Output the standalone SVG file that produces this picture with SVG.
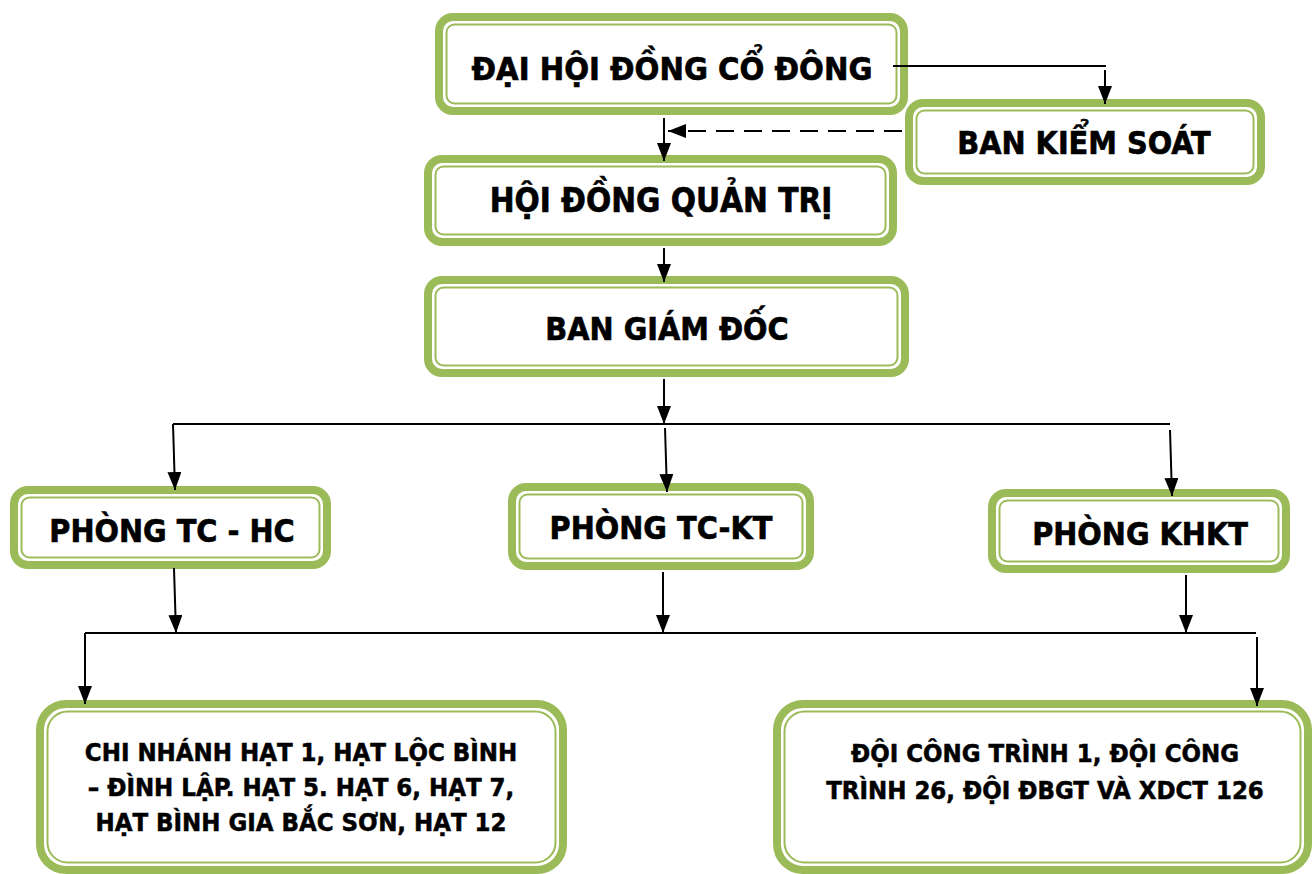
<svg xmlns="http://www.w3.org/2000/svg" width="1312" height="874" viewBox="0 0 1312 874">
<defs>
<marker id="ah" markerUnits="userSpaceOnUse" markerWidth="18" markerHeight="14" refX="18" refY="7" orient="auto">
<path d="M0,0 L18,7 L0,14 z" fill="#000"/>
</marker>
</defs>
<style>
.o{fill:#fff;stroke:#9BBB59;stroke-width:8}
.i{fill:none;stroke:#9BBB59;stroke-width:2}
.t{font-family:"DejaVu Sans Condensed","DejaVu Sans",sans-serif;font-stretch:condensed;font-weight:bold;font-size:32px;fill:#000;stroke:#000;stroke-width:0.6;text-anchor:middle}
.s{font-family:"DejaVu Sans Condensed","DejaVu Sans",sans-serif;font-stretch:condensed;font-weight:bold;font-size:25.5px;fill:#000;stroke:#000;stroke-width:0.5;text-anchor:middle}
.c{fill:none;stroke:#000;stroke-width:2}
</style>
<rect width="1312" height="874" fill="#fff"/>
<g id="dhdcd">
<rect class="o" x="439" y="17" width="465" height="94" rx="14"/>
<rect class="i" x="446.5" y="24.5" width="450" height="79" rx="8"/>
<text class="t" x="672" y="80" style="font-size:32.5px">ĐẠI HỘI ĐỒNG CỔ ĐÔNG</text>
</g>
<g id="bks">
<rect class="o" x="909" y="103" width="352" height="78" rx="14"/>
<rect class="i" x="916.5" y="110.5" width="337" height="63" rx="8"/>
<text class="t" x="1084" y="154">BAN KIỂM SOÁT</text>
</g>
<g id="hdqt">
<rect class="o" x="428" y="159" width="465" height="83" rx="14"/>
<rect class="i" x="435.5" y="166.5" width="450" height="68" rx="8"/>
<text class="t" x="661" y="212" style="font-size:33px">HỘI ĐỒNG QUẢN TRỊ</text>
</g>
<g id="bgd">
<rect class="o" x="428" y="280" width="477" height="93" rx="14"/>
<rect class="i" x="435.5" y="287.5" width="462" height="78" rx="8"/>
<text class="t" x="667" y="340">BAN GIÁM ĐỐC</text>
</g>
<g id="tchc">
<rect class="o" x="14" y="490" width="313" height="75" rx="14"/>
<rect class="i" x="21.5" y="497.5" width="298" height="60" rx="8"/>
<text class="t" x="172" y="542">PHÒNG TC - HC</text>
</g>
<g id="tckt">
<rect class="o" x="512" y="487" width="298" height="79" rx="14"/>
<rect class="i" x="519.5" y="494.5" width="283" height="64" rx="8"/>
<text class="t" x="661" y="539">PHÒNG TC-KT</text>
</g>
<g id="khkt">
<rect class="o" x="992" y="493" width="294" height="76" rx="14"/>
<rect class="i" x="999.5" y="500.5" width="279" height="61" rx="8"/>
<text class="t" x="1140" y="545">PHÒNG KHKT</text>
</g>
<g id="chinhanh">
<rect class="o" x="40" y="704" width="523" height="166" rx="26"/>
<rect class="i" x="47.5" y="711.5" width="508" height="151" rx="20"/>
<text class="s" x="301" y="761">CHI NHÁNH HẠT 1, HẠT LỘC BÌNH</text>
<text class="s" x="301" y="796">– ĐÌNH LẬP. HẠT 5. HẠT 6, HẠT 7,</text>
<text class="s" x="301" y="831">HẠT BÌNH GIA BẮC SƠN, HẠT 12</text>
</g>
<g id="doicongtrinh">
<rect class="o" x="777" y="704" width="531" height="166" rx="26"/>
<rect class="i" x="784.5" y="711.5" width="516" height="151" rx="20"/>
<text class="s" x="1045" y="762">ĐỘI CÔNG TRÌNH 1, ĐỘI CÔNG</text>
<text class="s" x="1045" y="799">TRÌNH 26, ĐỘI ĐBGT VÀ XDCT 126</text>
</g>
<g id="connectors">
<path class="c" d="M893,66 H1106"/>
<path class="c" d="M1105,70 V104" marker-end="url(#ah)"/>
<path class="c" d="M902,131 H668" stroke-dasharray="18,10" marker-end="url(#ah)"/>
<path class="c" d="M664,118 V161" marker-end="url(#ah)"/>
<path class="c" d="M664,248 V282" marker-end="url(#ah)"/>
<path class="c" d="M664,379 V424" marker-end="url(#ah)"/>
<path class="c" d="M173,424 H1170"/>
<path class="c" d="M173,424 L175,490" marker-end="url(#ah)"/>
<path class="c" d="M665,428 L667,492" marker-end="url(#ah)"/>
<path class="c" d="M1170,430 L1172,496" marker-end="url(#ah)"/>
<path class="c" d="M174,568 L176,633" marker-end="url(#ah)"/>
<path class="c" d="M663,572 V633" marker-end="url(#ah)"/>
<path class="c" d="M1186,575 V633" marker-end="url(#ah)"/>
<path class="c" d="M85,633 H1256"/>
<path class="c" d="M85,633 V704" marker-end="url(#ah)"/>
<path class="c" d="M1257,637 V706" marker-end="url(#ah)"/>
</g>
</svg>
